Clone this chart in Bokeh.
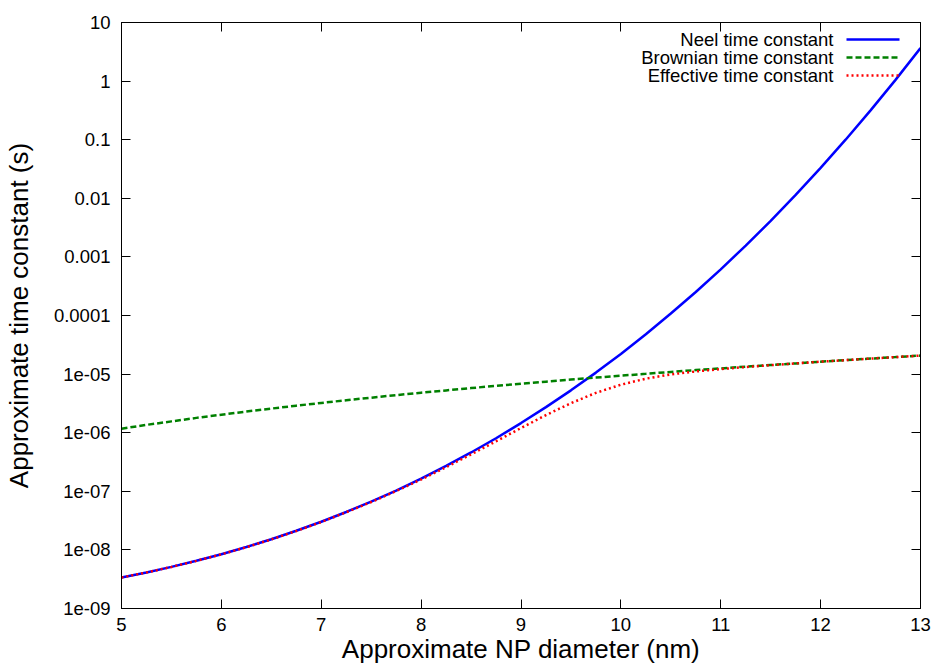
from bokeh.plotting import figure
from bokeh.models import FixedTicker, CustomJSTickFormatter, LinearAxis, LogAxis, Label, Arrow
from bokeh.embed import file_html
from bokeh.resources import INLINE

# ---- data ----
diameter_nm = [5.00, 5.25, 5.50, 5.75, 6.00, 6.25, 6.50, 6.75, 7.00, 7.25, 7.50, 7.75,
               8.00, 8.25, 8.50, 8.75, 9.00, 9.25, 9.50, 9.75, 10.00, 10.25, 10.50, 10.75,
               11.00, 11.25, 11.50, 11.75, 12.00, 12.25, 12.50, 12.75, 13.00]

neel_tau = [3.39e-9, 4.13e-9, 5.13e-9, 6.52e-9, 8.45e-9, 1.12e-8, 1.52e-8, 2.12e-8,
            3.02e-8, 4.44e-8, 6.67e-8, 1.03e-7, 1.65e-7, 2.71e-7, 4.60e-7, 8.05e-7,
            1.46e-6, 2.73e-6, 5.28e-6, 1.06e-5, 2.21e-5, 4.79e-5, 1.08e-4, 2.52e-4,
            6.14e-4, 1.56e-3, 4.13e-3, 1.14e-2, 3.30e-2, 0.100, 0.317, 1.05, 3.66]

brownian_tau = [1.17e-6, 1.36e-6, 1.56e-6, 1.79e-6, 2.03e-6, 2.30e-6, 2.58e-6, 2.89e-6,
                3.22e-6, 3.58e-6, 3.96e-6, 4.38e-6, 4.81e-6, 5.27e-6, 5.77e-6, 6.30e-6,
                6.85e-6, 7.43e-6, 8.05e-6, 8.71e-6, 9.40e-6, 1.01e-5, 1.09e-5, 1.17e-5,
                1.25e-5, 1.34e-5, 1.43e-5, 1.52e-5, 1.63e-5, 1.73e-5, 1.84e-5, 1.95e-5, 2.07e-5]

effective_tau = [3.38e-9, 4.12e-9, 5.12e-9, 6.49e-9, 8.41e-9, 1.11e-8, 1.51e-8, 2.10e-8,
                 2.99e-8, 4.39e-8, 6.56e-8, 1.01e-7, 1.59e-7, 2.58e-7, 4.27e-7, 7.14e-7,
                 1.20e-6, 2.00e-6, 3.19e-6, 4.79e-6, 6.59e-6, 8.36e-6, 9.89e-6, 1.11e-5,
                 1.22e-5, 1.32e-5, 1.42e-5, 1.52e-5, 1.63e-5, 1.73e-5, 1.84e-5, 1.95e-5, 2.07e-5]

x_ticks = [5, 6, 7, 8, 9, 10, 11, 12, 13]
y_ticks = [1e-9, 1e-8, 1e-7, 1e-6, 1e-5, 1e-4, 1e-3, 1e-2, 1e-1, 1, 10]
y_tick_labels = ["1e-09", "1e-08", "1e-07", "1e-06", "1e-05", "0.0001", "0.001",
                 "0.01", "0.1", "1", "10"]

series_names = ["Neel time constant", "Brownian time constant", "Effective time constant"]
series_colors = ["#0000ff", "#008000", "#ff0000"]
series_dashes = ["solid", "6 3", "2 3"]

FONT = "Liberation Sans"

p = figure(width=933, height=671, x_range=(5, 13), y_range=(1e-9, 10),
           y_axis_type="log", output_backend="svg", toolbar_location=None,
           min_border_left=120, min_border_right=13, min_border_top=22,
           min_border_bottom=63)
p.background_fill_color = "white"
p.border_fill_color = "white"
p.outline_line_color = "black"
p.outline_line_width = 1
p.xgrid.visible = False
p.ygrid.visible = False

ys = [neel_tau, brownian_tau, effective_tau]
for yv, c, d in zip(ys, series_colors, series_dashes):
    p.line(diameter_nm, yv, line_color=c, line_width=2.5, line_dash=d)

fmt = CustomJSTickFormatter(args=dict(tvals=y_ticks, tlabels=y_tick_labels), code="""
    let best = 0, bd = 1e9;
    for (let i = 0; i < tvals.length; i++) {
        const dd = Math.abs(Math.log10(tvals[i]) - Math.log10(tick));
        if (dd < bd) { bd = dd; best = i; }
    }
    return tlabels[best];
""")

def style_axis(ax):
    ax.axis_line_color = "black"
    ax.major_tick_in = 9
    ax.major_tick_out = 0
    ax.major_tick_line_color = "black"
    ax.minor_tick_line_color = None
    ax.major_label_text_font = FONT
    ax.major_label_text_font_size = "18.5px"
    ax.major_label_text_color = "black"
    ax.axis_label_text_font = FONT
    ax.axis_label_text_font_size = "26px"
    ax.axis_label_text_font_style = "normal"
    ax.axis_label_text_color = "black"

xa = p.xaxis[0]
style_axis(xa)
xa.ticker = FixedTicker(ticks=x_ticks)
xa.axis_label = "Approximate NP diameter (nm)"
xa.major_label_standoff = 9
xa.axis_label_standoff = 0

ya = p.yaxis[0]
style_axis(ya)
ya.ticker = FixedTicker(ticks=y_ticks)
ya.formatter = fmt
ya.axis_label = "Approximate time constant (s)"
ya.major_label_standoff = 11
ya.axis_label_standoff = 17

# mirrored tick marks (gnuplot border ticks), no labels drawn
top = LinearAxis(ticker=FixedTicker(ticks=x_ticks))
style_axis(top)
top.major_label_text_font_size = "1px"
top.major_label_text_color = None
top.major_label_standoff = 0
p.add_layout(top, "above")

right = LogAxis(ticker=FixedTicker(ticks=y_ticks))
style_axis(right)
right.major_label_text_font_size = "1px"
right.major_label_text_color = None
right.major_label_standoff = 0
p.add_layout(right, "right")

# legend (gnuplot style: text right-aligned, sample to the right)
row_y = [569, 551, 533]
for name, c, d, ry in zip(series_names, series_colors, series_dashes, row_y):
    p.add_layout(Label(x=712, y=ry, x_units="screen", y_units="screen", text=name,
                       text_align="right", text_baseline="middle",
                       text_font=FONT, text_font_size="18.5px", text_color="black"))
    p.add_layout(Arrow(x_start=725, y_start=ry, x_end=778, y_end=ry,
                       start_units="screen", end_units="screen", end=None,
                       line_color=c, line_width=2.5, line_dash=d))

open("out.html", "w").write(file_html(p, INLINE))
